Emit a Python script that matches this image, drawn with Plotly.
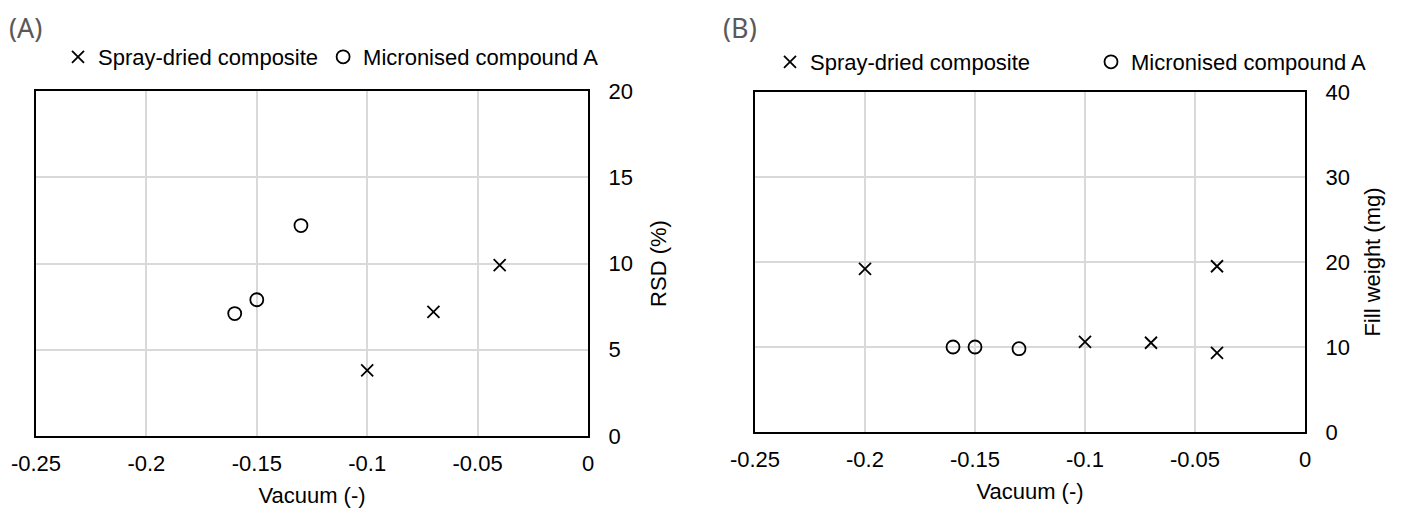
import plotly.graph_objects as go

# Panel A: RSD (%)
a_spray_x = [-0.10, -0.07, -0.04]
a_spray_y = [3.8, 7.2, 9.9]
a_micro_x = [-0.16, -0.15, -0.13]
a_micro_y = [7.1, 7.9, 12.2]

# Panel B: Fill weight (mg)
b_spray_x = [-0.20, -0.10, -0.07, -0.04, -0.04]
b_spray_y = [19.2, 10.6, 10.5, 19.5, 9.3]
b_micro_x = [-0.16, -0.15, -0.13]
b_micro_y = [10.0, 10.0, 9.8]

x_ticks = [-0.25, -0.2, -0.15, -0.1, -0.05, 0]
x_ticktext = ["-0.25", "-0.2", "-0.15", "-0.1", "-0.05", "0"]

FONT = "Liberation Sans, Arial, sans-serif"
FS = 22
cross = dict(symbol="x-thin", size=12, line=dict(color="black", width=1.8), color="black")
circ = dict(symbol="circle-open", size=13, line=dict(color="black", width=1.8), color="black")

fig = go.Figure()
fig.add_trace(go.Scatter(x=a_spray_x, y=a_spray_y, mode="markers", marker=cross,
                         name="Spray-dried composite", xaxis="x", yaxis="y", legend="legend"))
fig.add_trace(go.Scatter(x=a_micro_x, y=a_micro_y, mode="markers", marker=circ,
                         name="Micronised compound A", xaxis="x", yaxis="y", legend="legend"))
fig.add_trace(go.Scatter(x=b_spray_x, y=b_spray_y, mode="markers", marker=cross,
                         name="Spray-dried composite", xaxis="x2", yaxis="y2", legend="legend2"))
fig.add_trace(go.Scatter(x=b_micro_x, y=b_micro_y, mode="markers", marker=circ,
                         name="Micronised compound A", xaxis="x2", yaxis="y2", legend="legend2"))

# page body has an 8px default margin; figure is sized to fill the rest
OFF = 8
W, H = 1406 - OFF, 508 - OFF
def fx(p): return (p - OFF) / W
def fy(p): return 1 - (p - OFF) / H

tf = dict(family=FONT, size=FS, color="black")
xcommon = dict(range=[-0.25, 0], tickvals=x_ticks, ticktext=x_ticktext,
               showgrid=True, gridcolor="#d9d9d9", gridwidth=1.5,
               showline=True, linecolor="black", linewidth=2, mirror=True,
               zeroline=False, ticks="", ticklabelstandoff=7, automargin=False,
               tickfont=tf,
               title=dict(text="Vacuum (-)", font=tf, standoff=12))
ycommon = dict(side="right", showgrid=True, gridcolor="#d9d9d9", gridwidth=1.5,
               showline=True, linecolor="black", linewidth=2, mirror=True,
               zeroline=False, ticks="", ticklabelstandoff=14, automargin=False,
               tickfont=tf)

fig.update_layout(
    width=W, height=H,
    margin=dict(l=0, r=0, t=0, b=0, autoexpand=False),
    paper_bgcolor="white", plot_bgcolor="white",
    font=dict(family=FONT, size=FS, color="black"),
    xaxis=dict(domain=[fx(36), fx(588)], anchor="y", **xcommon),
    yaxis=dict(domain=[fy(436), fy(91)], anchor="x", range=[0, 20], tickvals=[0, 5, 10, 15, 20],
               title=dict(text="RSD (%)", font=tf, standoff=19),
               **ycommon),
    xaxis2=dict(domain=[fx(755), fx(1305)], anchor="y2", **xcommon),
    yaxis2=dict(domain=[fy(432), fy(92)], anchor="x2", range=[0, 40], tickvals=[0, 10, 20, 30, 40],
                title=dict(text="Fill weight (mg)", font=tf, standoff=16),
                **ycommon),
    legend=dict(orientation="h", x=fx(58), y=fy(36), xanchor="left", yanchor="top",
                bgcolor="rgba(0,0,0,0)", font=tf, itemwidth=30, tracegroupgap=0),
    legend2=dict(orientation="h", x=fx(770), y=fy(41), xanchor="left", yanchor="top",
                 bgcolor="rgba(0,0,0,0)", font=tf, entrywidth=276, itemwidth=30),
    showlegend=True,
    annotations=[
        dict(text="(A)", x=fx(7), y=fy(27), xref="paper", yref="paper", xanchor="left", yanchor="middle",
             showarrow=False, font=dict(family="Noto Sans, sans-serif", size=27, color="#595959")),
        dict(text="(B)", x=fx(721), y=fy(27), xref="paper", yref="paper", xanchor="left", yanchor="middle",
             showarrow=False, font=dict(family="Noto Sans, sans-serif", size=27, color="#595959")),
    ],
)

fig.write_html("out.html")
